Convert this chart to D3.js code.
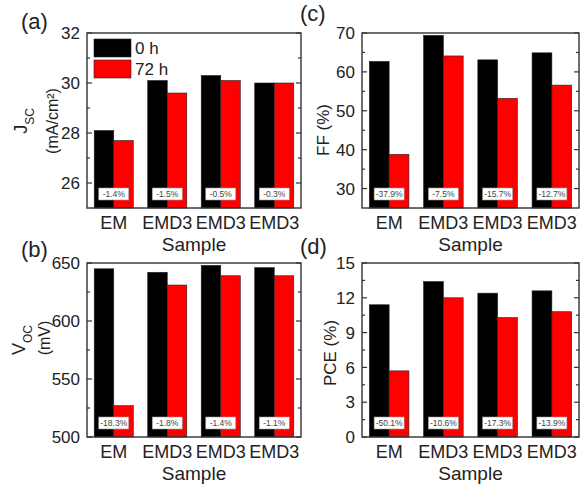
<!DOCTYPE html>
<html>
<head>
<meta charset="utf-8">
<script src="https://cdn.jsdelivr.net/npm/d3@7"></script>
<style>
  body { margin: 0; background: #fff; }
  text { font-family: "Liberation Sans", Arial, sans-serif; fill: #222; }
</style>
</head>
<body>
<script>
// data
var samples = ["EM", "EMD3", "EMD3", "EMD3"];
var series = ["0 h", "72 h"];
var colors = ["#000000", "#ff0000"];

var jsc0 = [28.1, 30.1, 30.3, 30.0];
var jsc72 = [27.7, 29.6, 30.1, 30.0];
var jscLabels = ["-1.4%", "-1.5%", "-0.5%", "-0.3%"];

var voc0 = [645, 642, 648, 646];
var voc72 = [527, 631, 639, 639];
var vocLabels = ["-18.3%", "-1.8%", "-1.4%", "-1.1%"];

var ff0 = [62.7, 69.4, 63.1, 64.9];
var ff72 = [38.8, 64.1, 53.2, 56.6];
var ffLabels = ["-37.9%", "-7.5%", "-15.7%", "-12.7%"];

var pce0 = [11.4, 13.4, 12.4, 12.6];
var pce72 = [5.7, 12.0, 10.3, 10.8];
var pceLabels = ["-50.1%", "-10.6%", "-17.3%", "-13.9%"];

var svg = d3.select("body").append("svg")
  .attr("width", 581)
  .attr("height", 484);

var panels = [
  {tag: "(a)", tagX: 21, tagY: 29, box: {l: 87, r: 301, t: 33, b: 208},
   domain: [25, 32], major: [26, 28, 30, 32], minor: [27, 29, 31],
   v0: jsc0, v72: jsc72, labels: jscLabels, title: "jsc", titleX: 21, titleY: 121, legend: true},
  {tag: "(b)", tagX: 21, tagY: 257, box: {l: 87, r: 301, t: 263, b: 437},
   domain: [500, 650], major: [500, 550, 600, 650], minor: [525, 575, 625],
   v0: voc0, v72: voc72, labels: vocLabels, title: "voc", titleX: 19, titleY: 340},
  {tag: "(c)", tagX: 300, tagY: 21, box: {l: 362, r: 579, t: 33, b: 208},
   domain: [25, 70], major: [30, 40, 50, 60, 70], minor: [35, 45, 55, 65],
   v0: ff0, v72: ff72, labels: ffLabels, title: "FF (%)", titleX: 323, titleY: 130},
  {tag: "(d)", tagX: 300, tagY: 254, box: {l: 362, r: 579, t: 263, b: 437},
   domain: [0, 15], major: [0, 3, 6, 9, 12, 15], minor: [1.5, 4.5, 7.5, 10.5, 13.5],
   v0: pce0, v72: pce72, labels: pceLabels, title: "PCE (%)", titleX: 330, titleY: 353}
];

panels.forEach(drawPanel);

function drawPanel(p) {
  var bx = p.box;
  var g = svg.append("g");

  var x = d3.scaleBand().domain(d3.range(samples.length))
    .range([bx.l, bx.r]).paddingInner(0.27).paddingOuter(0.135);
  var xs = d3.scaleBand().domain([0, 1]).range([0, x.bandwidth()]);
  var y = d3.scaleLinear().domain(p.domain).range([bx.b, bx.t]);

  var rows = samples.map(function(s, i) { return {i: i, vals: [p.v0[i], p.v72[i]]}; });

  // bars
  var grp = g.selectAll(".grp").data(rows).enter().append("g")
    .attr("transform", function(d) { return "translate(" + x(d.i) + ",0)"; });
  grp.selectAll("rect").data(function(d) { return d.vals; }).enter().append("rect")
    .attr("x", function(d, j) { return xs(j); })
    .attr("y", function(d) { return y(d); })
    .attr("width", xs.bandwidth())
    .attr("height", function(d) { return bx.b - y(d); })
    .attr("fill", function(d, j) { return colors[j]; })
    .attr("stroke", "#222").attr("stroke-width", 0.6);

  // percentage boxes
  grp.append("rect")
    .attr("x", x.bandwidth() / 2 - 15).attr("y", bx.b - 20)
    .attr("width", 30).attr("height", 12)
    .attr("fill", "#fff").attr("stroke", "#999").attr("stroke-width", 0.6);
  grp.append("text")
    .attr("x", x.bandwidth() / 2).attr("y", bx.b - 11)
    .attr("text-anchor", "middle").style("font-size", "8.5px").style("fill", "#444")
    .text(function(d) { return p.labels[d.i]; });

  // frame
  g.append("rect").attr("x", bx.l).attr("y", bx.t)
    .attr("width", bx.r - bx.l).attr("height", bx.b - bx.t)
    .attr("fill", "none").attr("stroke", "#333").attr("stroke-width", 1.4);

  // ticks (inward, both sides)
  var tk = g.append("g").attr("stroke", "#333").attr("stroke-width", 1.2);
  [[p.major, 5], [p.minor, 3]].forEach(function(set) {
    tk.selectAll(null).data(set[0]).enter().append("line")
      .attr("x1", bx.l).attr("x2", bx.l + set[1])
      .attr("y1", function(d) { return y(d); }).attr("y2", function(d) { return y(d); });
    tk.selectAll(null).data(set[0]).enter().append("line")
      .attr("x1", bx.r).attr("x2", bx.r - set[1])
      .attr("y1", function(d) { return y(d); }).attr("y2", function(d) { return y(d); });
  });

  g.selectAll(".ytl").data(p.major).enter().append("text")
    .attr("x", bx.l - 7).attr("y", function(d) { return y(d); })
    .attr("dy", "0.36em").attr("text-anchor", "end").style("font-size", "17px")
    .text(function(d) { return d; });

  g.selectAll(".xtl").data(samples).enter().append("text")
    .attr("x", function(d, i) { return x(i) + x.bandwidth() / 2; })
    .attr("y", bx.b + 21).attr("text-anchor", "middle").style("font-size", "18px")
    .text(function(d) { return d; });

  g.append("text").attr("x", (bx.l + bx.r) / 2).attr("y", bx.b + 43)
    .attr("text-anchor", "middle").style("font-size", "19px").text("Sample");

  g.append("text").attr("x", p.tagX).attr("y", p.tagY)
    .style("font-size", "22px").text(p.tag);

  // y titles
  if (p.title == "jsc") {
    var t1 = g.append("text").attr("transform", "translate(" + p.titleX + "," + p.titleY + ") rotate(-90)")
      .attr("dy", "0.36em").attr("text-anchor", "middle").style("font-size", "18px");
    t1.append("tspan").text("J");
    t1.append("tspan").attr("baseline-shift", "sub").style("font-size", "12px").text("SC");
    g.append("text").attr("transform", "translate(52," + p.titleY + ") rotate(-90)")
      .attr("dy", "0.36em").attr("text-anchor", "middle").style("font-size", "16px")
      .text("(mA/cm²)");
  } else if (p.title == "voc") {
    var t2 = g.append("text").attr("transform", "translate(" + p.titleX + "," + p.titleY + ") rotate(-90)")
      .attr("dy", "0.36em").attr("text-anchor", "middle").style("font-size", "18px");
    t2.append("tspan").text("V");
    t2.append("tspan").attr("baseline-shift", "sub").style("font-size", "12px").text("OC");
    g.append("text").attr("transform", "translate(44,338) rotate(-90)")
      .attr("dy", "0.36em").attr("text-anchor", "middle").style("font-size", "16px")
      .text("(mV)");
  } else {
    g.append("text").attr("transform", "translate(" + p.titleX + "," + p.titleY + ") rotate(-90)")
      .attr("dy", "0.36em").attr("text-anchor", "middle").style("font-size", "17px")
      .text(p.title);
  }

  if (p.legend) {
    var lg = g.selectAll(".lg").data(series).enter().append("g")
      .attr("transform", function(d, i) { return "translate(94," + (39 + i * 21) + ")"; });
    lg.append("rect").attr("width", 37).attr("height", 18)
      .attr("fill", function(d, i) { return colors[i]; })
      .attr("stroke", "#222").attr("stroke-width", 0.6);
    lg.append("text").attr("x", 41).attr("y", 9).attr("dy", "0.36em")
      .style("font-size", "17px").text(function(d) { return d; });
  }
}
</script>
</body>
</html>
